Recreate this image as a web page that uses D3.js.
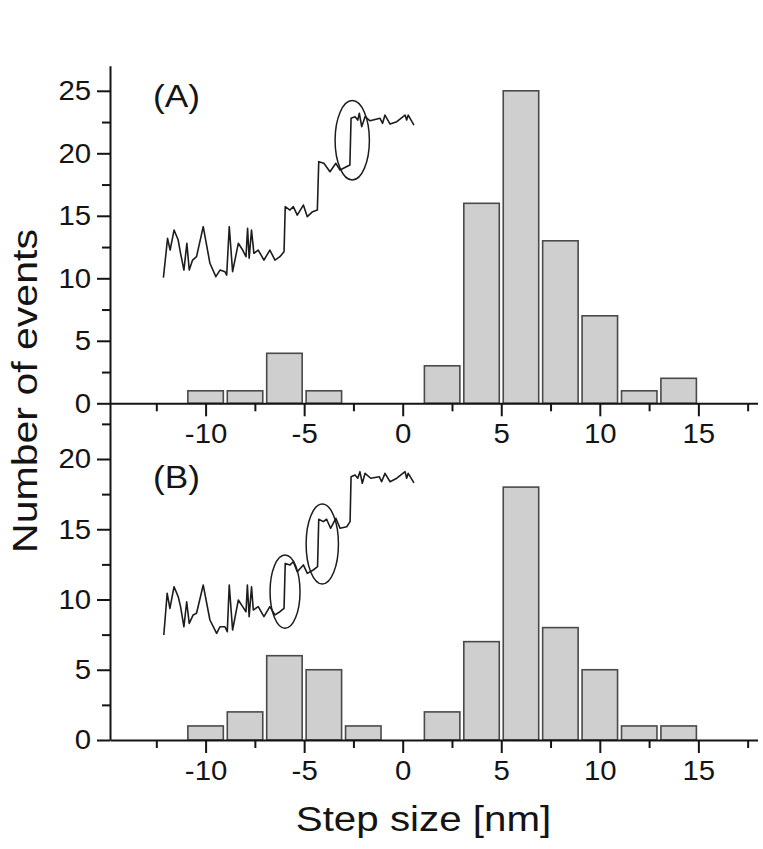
<!DOCTYPE html>
<html><head><meta charset="utf-8">
<script src="https://cdn.jsdelivr.net/npm/d3@7"></script>
<style>
body{margin:0;background:#fff;}
svg{display:block;font-family:"Liberation Sans",Arial,Helvetica,sans-serif;}
</style></head><body>
<svg id="chart" width="763" height="849"></svg>
<script>
// ---- data ----
const binCenters = [-10,-8,-6,-4,-2,0,2,4,6,8,10,12,14];
const countsA = [1,1,4,1,0,0,3,16,25,13,7,1,2];
const countsB = [1,2,6,5,1,0,2,7,18,8,5,1,1];
const xTicks = [-10,-5,0,5,10,15];
const xMinor = [-12.5,-7.5,-2.5,2.5,7.5,12.5,17.5];
const yTicksA = [0,5,10,15,20,25];
const yMinorA = [2.5,7.5,12.5,17.5,22.5];
const yTicksB = [0,5,10,15,20];
const yMinorB = [2.5,7.5,12.5,17.5,22.5];
const panelLabels = ["(A)","(B)"];
const xTitle = "Step size [nm]";
const yTitle = "Number of events";
// inset traces (drawn in the panel's own axis units)
const traceA = [[-12.14,10.05],[-11.93,13.2],[-11.8,12.26],[-11.6,13.86],[-11.39,13.06],[-11.27,12.0],[-11.1,10.66],[-10.95,12.8],[-10.83,10.66],[-10.66,11.46],[-10.46,11.73],[-10.12,14.13],[-9.78,11.2],[-9.48,10.13],[-9.27,10.66],[-9.02,10.53],[-8.93,10.26],[-8.8,14.13],[-8.63,10.53],[-8.34,12.8],[-8.12,12.26],[-7.95,11.73],[-7.87,14.0],[-7.79,11.6],[-7.67,13.86],[-7.55,12.0],[-7.33,12.26],[-7.04,11.46],[-6.74,12.26],[-6.48,11.46],[-6.23,11.73],[-6.02,12.13],[-5.96,15.73],[-5.72,15.46],[-5.55,15.73],[-5.35,15.06],[-5.04,15.86],[-4.84,14.93],[-4.57,15.33],[-4.33,15.46],[-4.26,19.33],[-4.0,19.2],[-3.69,18.53],[-3.39,19.2],[-3.18,18.66],[-2.68,19.06],[-2.62,22.8],[-2.42,22.93],[-2.28,22.66],[-2.2,23.2],[-2.08,22.13],[-1.91,22.93],[-1.66,22.6],[-1.15,22.8],[-1.02,22.4],[-0.9,23.06],[-0.64,22.34],[-0.3,22.53],[0.12,23.06],[0.2,22.66],[0.28,23.06],[0.57,22.26]];
const traceB = [[-12.12,7.47],[-11.95,10.44],[-11.81,9.37],[-11.6,10.91],[-11.39,10.2],[-11.27,9.49],[-11.1,8.06],[-10.96,9.84],[-10.83,8.3],[-10.63,8.9],[-10.46,9.02],[-10.12,11.03],[-9.78,8.54],[-9.44,7.59],[-9.27,8.06],[-9.02,8.06],[-8.9,7.71],[-8.8,11.03],[-8.63,7.83],[-8.34,9.96],[-8.12,9.49],[-7.95,9.13],[-7.88,11.03],[-7.79,8.78],[-7.67,10.91],[-7.58,9.25],[-7.33,9.49],[-7.04,8.78],[-6.74,9.49],[-6.48,8.9],[-6.23,9.13],[-6.02,9.37],[-5.96,12.57],[-5.72,12.46],[-5.55,12.69],[-5.35,11.98],[-5.04,12.46],[-4.84,11.86],[-4.54,12.1],[-4.32,12.34],[-4.26,15.71],[-4.03,15.54],[-3.86,15.71],[-3.66,15.07],[-3.39,15.78],[-3.18,15.07],[-2.84,15.18],[-2.67,15.54],[-2.62,18.74],[-2.42,18.86],[-2.28,18.63],[-2.17,19.1],[-2.05,18.27],[-1.91,18.98],[-1.62,18.63],[-1.19,18.74],[-1.07,18.38],[-0.9,18.98],[-0.64,18.38],[-0.3,18.63],[0.12,19.1],[0.2,18.63],[0.28,18.98],[0.57,18.3]];
const ellipsesA = [{cx:-2.56, cy:21.04, rx:0.87, ry:3.18}];
const ellipsesB = [{cx:-5.97, cy:10.56, rx:0.76, ry:2.61},{cx:-4.08, cy:13.95, rx:0.82, ry:2.85}];

// ---- drawing ----
const svg = d3.select("#chart");
const ink = "#141414";
const x = d3.scaleLinear().domain([-14.85, 18]).range([110, 757.5]);
const yA = d3.scaleLinear().domain([0, 27]).range([403.3, 65.8]);
const yB = d3.scaleLinear().domain([0, 24]).range([740, 402.8]);
const tickFont = 28, tickStretch = 1.05;
const fmt = d => String(d);

function panel(y, counts, trace, ellipses, label, yTicks, yMinor, labelPos) {
  const g = svg.append("g");
  const data = binCenters.map((c,i)=>({c, v:counts[i]})).filter(d=>d.v>0);
  g.selectAll("rect").data(data).join("rect")
    .attr("x", d=>x(d.c-0.9)).attr("width", d=>x(d.c+0.9)-x(d.c-0.9))
    .attr("y", d=>y(d.v)).attr("height", d=>y(0)-y(d.v))
    .attr("fill","#cfcfcf").attr("stroke","#4a4a4a").attr("stroke-width",1.6);

  const line = d3.line().x(d=>x(d[0])).y(d=>y(d[1]));
  g.append("path").datum(trace).attr("d", line).attr("fill","none")
    .attr("stroke","#1c1c1c").attr("stroke-width",1.6).attr("stroke-linejoin","round");
  g.selectAll("ellipse").data(ellipses).join("ellipse")
    .attr("cx", d=>x(d.cx)).attr("cy", d=>y(d.cy))
    .attr("rx", d=>x(d.cx+d.rx)-x(d.cx)).attr("ry", d=>y(d.cy-d.ry)-y(d.cy))
    .attr("fill","none").attr("stroke","#1c1c1c").attr("stroke-width",1.5);

  // x axis
  const gx = svg.append("g").attr("transform",`translate(0,${y(0)})`)
    .call(d3.axisBottom(x).tickValues(xTicks).tickFormat(fmt).tickSize(13).tickPadding(7).tickSizeOuter(0));
  const gxm = svg.append("g").attr("transform",`translate(0,${y(0)})`)
    .call(d3.axisBottom(x).tickValues(xMinor).tickSize(8).tickFormat("").tickSizeOuter(0));
  gxm.select(".domain").remove();
  // y axis
  const gy = svg.append("g").attr("transform",`translate(${x.range()[0]},0)`)
    .call(d3.axisLeft(y).tickValues(yTicks).tickFormat(fmt).tickSize(13).tickPadding(5).tickSizeOuter(0));
  const gym = svg.append("g").attr("transform",`translate(${x.range()[0]},0)`)
    .call(d3.axisLeft(y).tickValues(yMinor).tickSize(8).tickFormat("").tickSizeOuter(0));
  gym.select(".domain").remove();

  [gx,gxm,gy,gym].forEach(a=>{
    a.selectAll("path,line").attr("stroke",ink).attr("stroke-width",2);
    a.selectAll("text").attr("fill",ink).attr("font-size",tickFont)
      .attr("font-family","Liberation Sans, Arial, sans-serif")
      .attr("transform",`scale(${tickStretch},1)`);
  });

  svg.append("text").text(label)
    .attr("transform",`translate(${labelPos[0]},${labelPos[1]}) scale(1.1,1)`)
    .attr("font-size",32).attr("fill",ink);
}

panel(yA, countsA, traceA, ellipsesA, panelLabels[0], yTicksA, yMinorA, [153,107]);
panel(yB, countsB, traceB, ellipsesB, panelLabels[1], yTicksB, yMinorB, [153,488]);

svg.append("text").text(xTitle)
  .attr("transform","translate(423.5,831) scale(1.12,1)")
  .attr("text-anchor","middle").attr("font-size",36).attr("fill",ink);
svg.append("text").text(yTitle)
  .attr("transform","translate(37,391) rotate(-90) scale(1.14,1)")
  .attr("text-anchor","middle").attr("font-size",36).attr("fill",ink);
</script>
</body></html>
